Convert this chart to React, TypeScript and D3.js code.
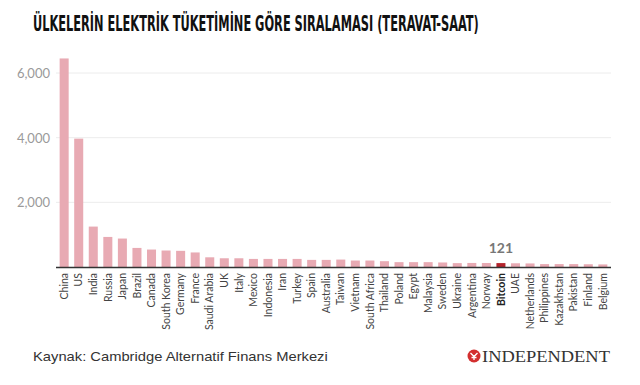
import React, { useEffect, useRef } from 'react'
import * as d3 from 'd3'

const countries = [
  'China', 'US', 'India', 'Russia', 'Japan', 'Brazil', 'Canada', 'South Korea', 'Germany', 'France',
  'Saudi Arabia', 'UK', 'Italy', 'Mexico', 'Indonesia', 'Iran', 'Turkey', 'Spain', 'Australia', 'Taiwan',
  'Vietnam', 'South Africa', 'Thailand', 'Poland', 'Egypt', 'Malaysia', 'Sweden', 'Ukraine', 'Argentina', 'Norway',
  'Bitcoin', 'UAE', 'Netherlands', 'Philippines', 'Kazakhstan', 'Pakistan', 'Finland', 'Belgium'
]

const consumption = [
  6450, 3970, 1250, 930, 880, 590, 540, 510, 500, 450,
  300, 270, 270, 250, 250, 250, 250, 220, 220, 230,
  200, 200, 180, 150, 150, 150, 140, 120, 125, 124,
  121, 115, 110, 90, 90, 90, 85, 80
]

const yTicks = [2000, 4000, 6000]
const highlight = 'Bitcoin'

const title = 'ÜLKELERİN ELEKTRİK TÜKETİMİNE GÖRE SIRALAMASI (TERAVAT-SAAT)'
const source = 'Kaynak: Cambridge Alternatif Finans Merkezi'

// squeeze a text element horizontally so it spans the given width
function fitWidth(sel: any, w: number) {
  const node = sel.node() as SVGTextElement
  const natural = node.getComputedTextLength()
  if (natural > 0) {
    const x0 = +sel.attr('x')
    const y0 = +sel.attr('y')
    sel.attr('x', 0).attr('y', 0)
      .attr('transform', `translate(${x0},${y0}) scale(${w / natural},1)`)
  }
}

export default function App() {
  const ref = useRef<SVGSVGElement>(null)

  useEffect(() => {
    document.body.style.margin = '0'
    const svg = d3.select(ref.current)
    svg.selectAll('*').remove()

    const width = 640
    const height = 385
    svg.attr('width', width).attr('height', height)
    svg.append('rect').attr('width', width).attr('height', height).attr('fill', '#fff')

    const x = d3.scaleBand<string>()
      .domain(countries)
      .range([56, 611])
      .paddingInner(0.38)
      .paddingOuter(0.25)

    const y = d3.scaleLinear().domain([0, 6000]).range([267, 73])

    // title
    const t = svg.append('text')
      .attr('x', 33)
      .attr('y', 31)
      .attr('font-family', '"Liberation Sans Narrow", "DejaVu Sans Condensed", sans-serif')
      .attr('font-weight', 'bold')
      .attr('font-size', 22)
      .attr('fill', '#111')
      .text(title)
    fitWidth(t, 446)

    // grid
    svg.append('g').selectAll('line')
      .data(yTicks)
      .enter().append('line')
      .attr('x1', 56)
      .attr('x2', 611)
      .attr('y1', d => y(d))
      .attr('y2', d => y(d))
      .attr('stroke', '#ececec')
      .attr('stroke-width', 1)

    svg.append('g').selectAll('text')
      .data(yTicks)
      .enter().append('text')
      .attr('x', 50)
      .attr('y', d => y(d) + 5)
      .attr('text-anchor', 'end')
      .attr('font-family', 'Lato, sans-serif')
      .attr('font-size', 13)
      .attr('fill', '#9a9a9a')
      .text(d => d3.format(',')(d))

    // bars
    svg.append('g').selectAll('rect')
      .data(countries)
      .enter().append('rect')
      .attr('x', d => x(d) as number)
      .attr('width', x.bandwidth())
      .attr('y', (d, i) => y(consumption[i]))
      .attr('height', (d, i) => y(0) - y(consumption[i]))
      .attr('fill', d => d === highlight ? '#b3232b' : '#e8aab3')

    // baseline
    svg.append('line')
      .attr('x1', 56)
      .attr('x2', 611)
      .attr('y1', y(0) + 0.5)
      .attr('y2', y(0) + 0.5)
      .attr('stroke', '#333')
      .attr('stroke-width', 1.3)

    // labels
    svg.append('g').selectAll('text')
      .data(countries)
      .enter().append('text')
      .attr('transform', d => `translate(${(x(d) as number) + x.bandwidth() / 2 + 3.7},273) rotate(-90)`)
      .attr('text-anchor', 'end')
      .attr('font-family', 'Lato, sans-serif')
      .attr('font-size', 10.5)
      .attr('font-weight', d => d === highlight ? 'bold' : 'normal')
      .attr('fill', d => d === highlight ? '#222' : '#444')
      .text(d => d)

    // highlighted value
    const hi = countries.indexOf(highlight)
    svg.append('text')
      .attr('x', (x(highlight) as number) + x.bandwidth() / 2)
      .attr('y', y(consumption[hi]) - 10)
      .attr('text-anchor', 'middle')
      .attr('font-family', 'Lato, sans-serif')
      .attr('font-weight', 'bold')
      .attr('font-size', 14)
      .attr('fill', '#777')
      .text(consumption[hi])

    // source
    const s = svg.append('text')
      .attr('x', 33)
      .attr('y', 361)
      .attr('font-family', '"Liberation Sans", Arial, sans-serif')
      .attr('font-size', 12.5)
      .attr('fill', '#333')
      .text(source)
    fitWidth(s, 295)

    // logo
    const logo = svg.append('g').attr('transform', 'translate(474,356)')
    logo.append('circle').attr('r', 6.5).attr('fill', '#d32f2f')
    logo.append('path')
      .attr('d', 'M-3.5,-3 L0,0.5 L3.5,-3 M0,0.5 L0,4 M-2.5,1.5 L2.5,1.5')
      .attr('stroke', '#fff')
      .attr('stroke-width', 1.3)
      .attr('fill', 'none')
    const lg = svg.append('text')
      .attr('x', 482)
      .attr('y', 362)
      .attr('font-family', '"Liberation Serif", serif')
      .attr('font-size', 17)
      .attr('fill', '#333')
      .text('INDEPENDENT')
    fitWidth(lg, 128)
  }, [])

  return <svg ref={ref} style={{ display: 'block' }} />
}
